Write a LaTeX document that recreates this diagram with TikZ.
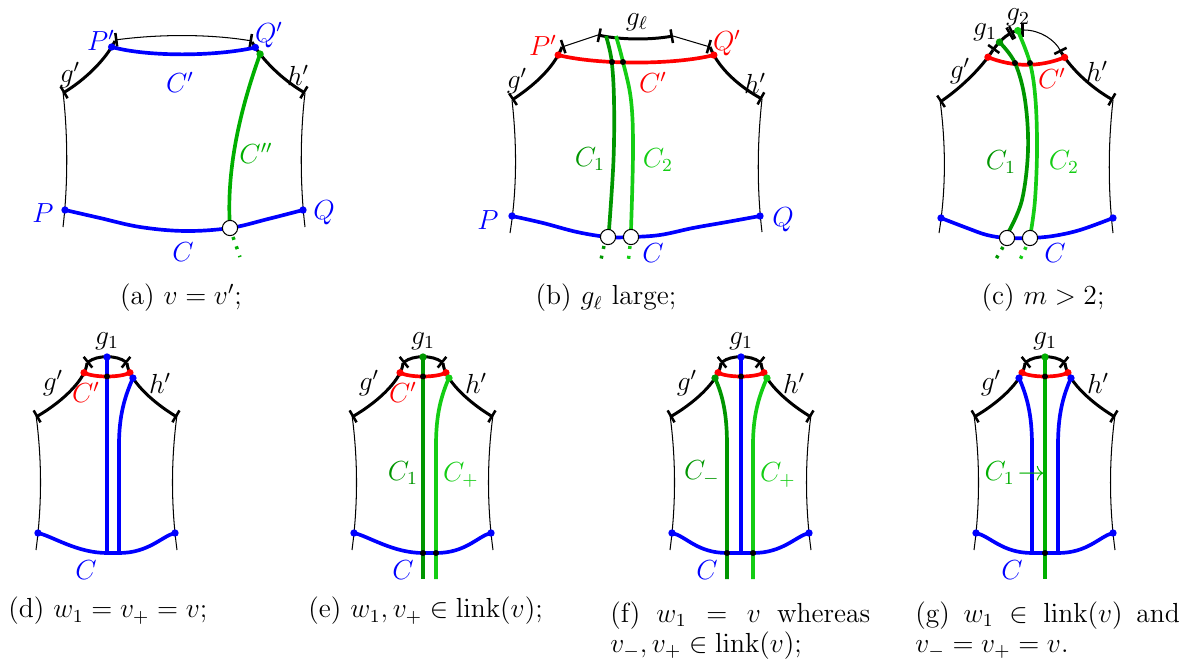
\documentclass[tikz,border=0pt]{standalone}
\usetikzlibrary{arrows.meta}
\definecolor{cblue}{RGB}{0,0,255}
\definecolor{cred}{RGB}{255,0,0}
\definecolor{dgreen}{RGB}{0,150,0}
\definecolor{lgreen}{RGB}{20,205,20}
\definecolor{mgreen}{RGB}{0,175,0}
\tikzset{
  every node/.style={font=\fontsize{12}{13}\selectfont},
  thinl/.style={line width=0.45pt},
  geo/.style={line width=1.3pt},
  cpath/.style={line width=1.6pt},
  bars/.style={{Bar[width=6pt,line width=1.1pt]}-{Bar[width=6pt,line width=1.1pt]}},
  barstart/.style={{Bar[width=6pt,line width=1.1pt]}-},
  barend/.style={-{Bar[width=6pt,line width=1.1pt]}},
  dotline/.style={line width=1.5pt, dash pattern=on 1.3pt off 3pt},
  hole/.style={draw=black, fill=white, line width=0.45pt},
  lab/.style={inner sep=0pt},
}
\newcommand{\panelbase}[1]{%
  \draw[thinl] (-71,415) .. controls (-65,460) and (-65,505) .. (-71,550);
  \draw[thinl] (70,415) .. controls (64,460) and (64,505) .. (70,550);
  \draw[geo,barend] (-20,363) .. controls (-21,378) and (-42,400) .. (-71,417)
     coordinate[pos=0.2] (#1-cl) coordinate[pos=0.3] (#1-gl);
  \draw[geo,bars] (-20,363) .. controls (-10,355) and (10,355) .. (20,363) coordinate[pos=0.5] (#1-top);
  \draw[geo,barend] (20,363) .. controls (21,378) and (42,400) .. (70,417)
     coordinate[pos=0.2] (#1-cr) coordinate[pos=0.3] (#1-hr);
  \draw[cpath,cred] (#1-cl) .. controls +(10,5) and +(-10,5) .. (#1-cr) coordinate[pos=0.5] (#1-mid);
  \fill[cred] (#1-cl) circle[radius=1.6pt];
  \fill[cred] (#1-cr) circle[radius=1.6pt];
  \node[lab] (#1-g1) at (0,341) {$g_1$};
  \node[lab] (#1-gp) at (-54,383) {$g'$};
  \node[lab] (#1-hp) at (53,383) {$h'$};
}
\newcommand{\panelC}[3]{%
  \draw[cpath,cblue] (-69,533) .. controls (-55,536) and (#2-30,553) .. (#2,553) -- (#3,553)
     .. controls (#3+30,553) and (55,536) .. (68,533);
  \coordinate (#1-Cl) at (-69,533);
  \coordinate (#1-Cr) at (68,533);
  \fill[cblue] (#1-Cl) circle[radius=1.6pt];
  \fill[cblue] (#1-Cr) circle[radius=1.6pt];
}
\begin{document}
\begin{tikzpicture}[x=0.435pt,y=-0.435pt]
\useasboundingbox (0,0) rectangle (1192,670);
% ================= (a)
\draw[thinl] (63,92) .. controls (68,135) and (68,185) .. (63,227);
\draw[thinl] (305,93) .. controls (300,135) and (300,185) .. (305,227);
\draw[geo,barstart] (63,93) .. controls (83,81) and (105,61) .. (115,41) coordinate[pos=0.9] (a-Pp);
\draw[thinl,bars] (115,40) .. controls (160,34) and (210,34) .. (252,41);
\draw[geo,barend] (252,42) .. controls (262,60) and (283,80) .. (305,93)
   coordinate[pos=0.1] (a-Qp) coordinate[pos=0.22] (a-Cpp);
\draw[cpath,cblue] (a-Pp) .. controls +(37,10) and +(-40,9) .. (a-Qp);
\coordinate (a-P) at (65,210);
\coordinate (a-Q) at (303,210);
\coordinate (a-h) at (230,228);
\draw[cpath,cblue] plot[smooth,tension=0.6] coordinates {(65,210) (100,218) (140,227) (185,231) (230,228) (268,219) (303,210)};
\draw[cpath,mgreen] (a-h) .. controls (226,170) and (240,110) .. (a-Cpp);
\draw[dotline,mgreen] (233,237) -- (240,257);
\filldraw[hole] (a-h) circle[radius=3.3pt];
\fill[cblue] (a-Pp) circle[radius=1.6pt];
\fill[cblue] (a-Qp) circle[radius=1.6pt];
\fill[cblue] (a-P) circle[radius=1.6pt];
\fill[cblue] (a-Q) circle[radius=1.6pt];
\fill[mgreen] (a-Cpp) circle[radius=1.6pt];
\node[lab,text=cblue] (a-lPp) at (101,40) {$P'$};
\node[lab,text=cblue] (a-lQp) at (269,35) {$Q'$};
\node[lab] (a-lg) at (70,75) {$g'$};
\node[lab] (a-lh) at (298,75) {$h'$};
\node[lab,text=cblue] (a-lCp) at (180,82) {$C'$};
\node[lab,text=mgreen] (a-lCpp) at (256,153) {$C''$};
\node[lab,text=cblue] (a-lP) at (43,213) {$P$};
\node[lab,text=cblue] (a-lQ) at (324,213) {$Q$};
\node[lab,text=cblue] (a-lC) at (183,252) {$C$};
\node[lab] (capa) at (181,298) {(a) $v=v'$;};
% ================= (b)
\draw[thinl] (512,100) .. controls (517,145) and (517,190) .. (510,233);
\draw[thinl] (762,99) .. controls (757,145) and (757,190) .. (762,232);
\draw[geo,barstart] (512,100) .. controls (530,88) and (553,70) .. (562,47) coordinate[pos=0.88] (b-Pp);
\draw[thinl,barstart] (562,47) -- (598,35);
\draw[geo,bars] (598,35) .. controls (622,40) and (650,40) .. (673,36);
\draw[thinl,barend] (673,36) -- (710,47);
\draw[geo,barend] (710,47) .. controls (719,70) and (742,88) .. (762,99) coordinate[pos=0.12] (b-Qp);
\draw[cpath,cred] (b-Pp) .. controls +(40,10) and +(-40,10) .. (b-Qp);
\coordinate (b-P) at (512,216);
\coordinate (b-Q) at (760,216);
\coordinate (b-h1) at (608,237);
\coordinate (b-h2) at (631,237);
\draw[cpath,cblue] plot[smooth,tension=0.6] coordinates {(512,216) (543,223) (577,232) (608,237) (631,237) (660,235) (693,228) (727,222) (760,216)};
\draw[cpath,dgreen] plot[smooth,tension=0.6] coordinates {(606,36) (611.5,60) (614,100) (613.5,160) (609,230)};
\draw[cpath,lgreen] plot[smooth,tension=0.6] coordinates {(616,36) (623,62) (631,100) (633,150) (631,230)};
\draw[dotline,dgreen] (604,246) -- (600,264);
\draw[dotline,lgreen] (630,246) -- (628,264);
\filldraw[hole] (b-h1) circle[radius=3.3pt];
\filldraw[hole] (b-h2) circle[radius=3.3pt];
\fill[cred] (b-Pp) circle[radius=1.6pt];
\fill[cred] (b-Qp) circle[radius=1.6pt];
\fill (612,62) circle[radius=1.3pt];
\fill (623,62) circle[radius=1.3pt];
\fill[cblue] (b-P) circle[radius=1.6pt];
\fill[cblue] (b-Q) circle[radius=1.6pt];
\node[lab] (b-lgl) at (637,22) {$g_\ell$};
\node[lab,text=cred] (b-lPp) at (543,45) {$P'$};
\node[lab,text=cred] (b-lQp) at (727,43) {$Q'$};
\node[lab] (b-lg) at (517,81) {$g'$};
\node[lab] (b-lh) at (755,83) {$h'$};
\node[lab,text=cred] (b-lCp) at (653,82) {$C'$};
\node[lab,text=dgreen] (b-lC1) at (590,159) {$C_1$};
\node[lab,text=lgreen] (b-lC2) at (658,160) {$C_2$};
\node[lab,text=cblue] (b-lP) at (488,220) {$P$};
\node[lab,text=cblue] (b-lQ) at (783,220) {$Q$};
\node[lab,text=cblue] (b-lC) at (653,253) {$C$};
\node[lab] (capb) at (606,298) {(b) $g_\ell$ large;};
% ================= (c)
\draw[thinl] (940,100) .. controls (946,145) and (946,190) .. (939,233);
\draw[thinl] (1113,100) .. controls (1108,145) and (1108,190) .. (1113,233);
\draw[geo,barstart] (940,102) .. controls (958,90) and (980,70) .. (993,50) coordinate[pos=0.88] (c-Pp);
\draw[geo,bars] (993,50) .. controls (998,43) and (1004,37) .. (1011,33) coordinate[pos=0.4] (c-t1);
\draw[geo,bars] (1011,33) .. controls (1015,31) and (1019,30) .. (1024,30) coordinate[pos=0.55] (c-t2);
\draw[thinl,barend] (1024,30) .. controls (1040,30) and (1055,40) .. (1061,52);
\draw[geo,barend] (1061,52) .. controls (1072,70) and (1092,88) .. (1113,100) coordinate[pos=0.1] (c-Qp);
\draw[cpath,cred] (c-Pp) .. controls +(25,10) and +(-25,10) .. (c-Qp);
\coordinate (c-P) at (941,218);
\coordinate (c-Q) at (1113,218);
\coordinate (c-h1) at (1007,238);
\coordinate (c-h2) at (1030,238);
\draw[cpath,cblue] plot[smooth,tension=0.6] coordinates {(941,218) (967,228) (987,235) (1007,238) (1030,238) (1053,236) (1080,230) (1113,218)};
\draw[cpath,dgreen] plot[smooth,tension=0.6] coordinates {(c-t1) (1015,63) (1025,100) (1028,150) (1022,200) (1009,231)};
\draw[cpath,lgreen] plot[smooth,tension=0.6] coordinates {(c-t2) (1030,63) (1035.5,100) (1037,150) (1035,200) (1031,231)};
\draw[dotline,dgreen] (1003,247) -- (993,264);
\draw[dotline,lgreen] (1026,247) -- (1018,264);
\filldraw[hole] (c-h1) circle[radius=3.3pt];
\filldraw[hole] (c-h2) circle[radius=3.3pt];
\fill[cred] (c-Pp) circle[radius=1.6pt];
\fill[cred] (c-Qp) circle[radius=1.6pt];
\fill (1015,63) circle[radius=1.3pt];
\fill (1030,63) circle[radius=1.3pt];
\fill[dgreen] (c-t1) circle[radius=1.6pt];
\fill[lgreen] (c-t2) circle[radius=1.6pt];
\fill[cblue] (c-P) circle[radius=1.6pt];
\fill[cblue] (c-Q) circle[radius=1.6pt];
\node[lab] (c-lg1) at (985,32) {$g_1$};
\node[lab] (c-lg2) at (1018,17) {$g_2$};
\node[lab] (c-lg) at (960,71) {$g'$};
\node[lab] (c-lh) at (1097,71) {$h'$};
\node[lab,text=cred] (c-lCp) at (1052,78) {$C'$};
\node[lab,text=dgreen] (c-lC1) at (1001,162) {$C_1$};
\node[lab,text=lgreen] (c-lC2) at (1064,162) {$C_2$};
\node[lab,text=cblue] (c-lC) at (1055,253) {$C$};
\node[lab] (capc) at (1043,298) {(c) $m>2$;};
% ================= (d)
\begin{scope}[shift={(107,0)}]
\panelbase{d}
\panelC{d}{0}{12}
\draw[cpath,cblue] (d-top) -- (0,553);
\draw[cpath,cblue] (d-hr) .. controls +(-8,18) and (12,415) .. (12,445) -- (12,553);
\fill[cblue] (d-top) circle[radius=1.6pt];
\fill[cblue] (d-hr) circle[radius=1.6pt];
\fill (d-mid) circle[radius=1.3pt];
\node[lab,text=cred] (d-lCp) at (-21,392) {$C'$};
\node[lab,text=cblue] (d-lC) at (-21,570) {$C$};
\end{scope}
\node[lab,anchor=west] (capd) at (8,611) {(d) $w_1=v_+=v$;};
% ================= (e)
\begin{scope}[shift={(423,0)}]
\panelbase{e}
\panelC{e}{0}{13}
\draw[cpath,dgreen] (e-top) -- (0,579);
\draw[cpath,lgreen] (e-hr) .. controls +(-8,18) and (13,415) .. (13,445) -- (13,579);
\fill[dgreen] (e-top) circle[radius=1.6pt];
\fill[lgreen] (e-hr) circle[radius=1.6pt];
\fill (e-mid) circle[radius=1.3pt];
\fill (0,553) circle[radius=1.3pt];
\fill (13,553) circle[radius=1.3pt];
\node[lab,text=cred] (e-lCp) at (-20,392) {$C'$};
\node[lab,text=dgreen] (e-lC1) at (-20,473) {$C_1$};
\node[lab,text=lgreen] (e-lCp1) at (38,475) {$C_+$};
\node[lab,text=cblue] (e-lC) at (-20,570) {$C$};
\end{scope}
\node[lab,anchor=west] (cape) at (308,611) {(e) $w_1,v_+\in\mathrm{link}(v)$;};
% ================= (f)
\begin{scope}[shift={(741,0)}]
\panelbase{f}
\panelC{f}{-14}{12}
\draw[cpath,cblue] (f-top) -- (0,553);
\draw[cpath,dgreen] (f-gl) .. controls +(8,18) and (-14,415) .. (-14,445) -- (-14,579);
\draw[cpath,lgreen] (f-hr) .. controls +(-8,18) and (12,415) .. (12,445) -- (12,579);
\fill[cblue] (f-top) circle[radius=1.6pt];
\fill[dgreen] (f-gl) circle[radius=1.6pt];
\fill[lgreen] (f-hr) circle[radius=1.6pt];
\fill (f-mid) circle[radius=1.3pt];
\fill (-14,553) circle[radius=1.3pt];
\fill (12,553) circle[radius=1.3pt];
\node[lab,text=dgreen] (f-lCm) at (-39,473) {$C_-$};
\node[lab,text=lgreen] (f-lCp1) at (37,475) {$C_+$};
\node[lab,text=cblue] (f-lC) at (-34,570) {$C$};
\end{scope}
\node[lab,anchor=north west,text width=113pt,align=justify] (capf) at (610,601)
  {(f) $w_1 = v$ whereas\linebreak $v_-,v_+\in\mathrm{link}(v)$;};
% ================= (g)
\begin{scope}[shift={(1045,0)}]
\panelbase{g}
\panelC{g}{-13}{13}
\draw[cpath,cblue] (g-gl) .. controls +(8,18) and (-13,415) .. (-13,445) -- (-13,553);
\draw[cpath,cblue] (g-hr) .. controls +(-8,18) and (13,415) .. (13,445) -- (13,553);
\draw[cpath,mgreen] (g-top) -- (0,579);
\fill[mgreen] (g-top) circle[radius=1.6pt];
\fill[cblue] (g-gl) circle[radius=1.6pt];
\fill[cblue] (g-hr) circle[radius=1.6pt];
\fill (g-mid) circle[radius=1.3pt];
\fill (0,553) circle[radius=1.3pt];
\node[lab,text=mgreen] (g-lC1) at (-30,473) {$C_1\!\rightarrow$};
\node[lab,text=cblue] (g-lC) at (-33,570) {$C$};
\end{scope}
\node[lab,anchor=north west,text width=115pt,align=justify] (capg) at (915,601)
  {(g) $w_1\in\mathrm{link}(v)$ and\linebreak $v_-=v_+=v$.};
\end{tikzpicture}
\end{document}
